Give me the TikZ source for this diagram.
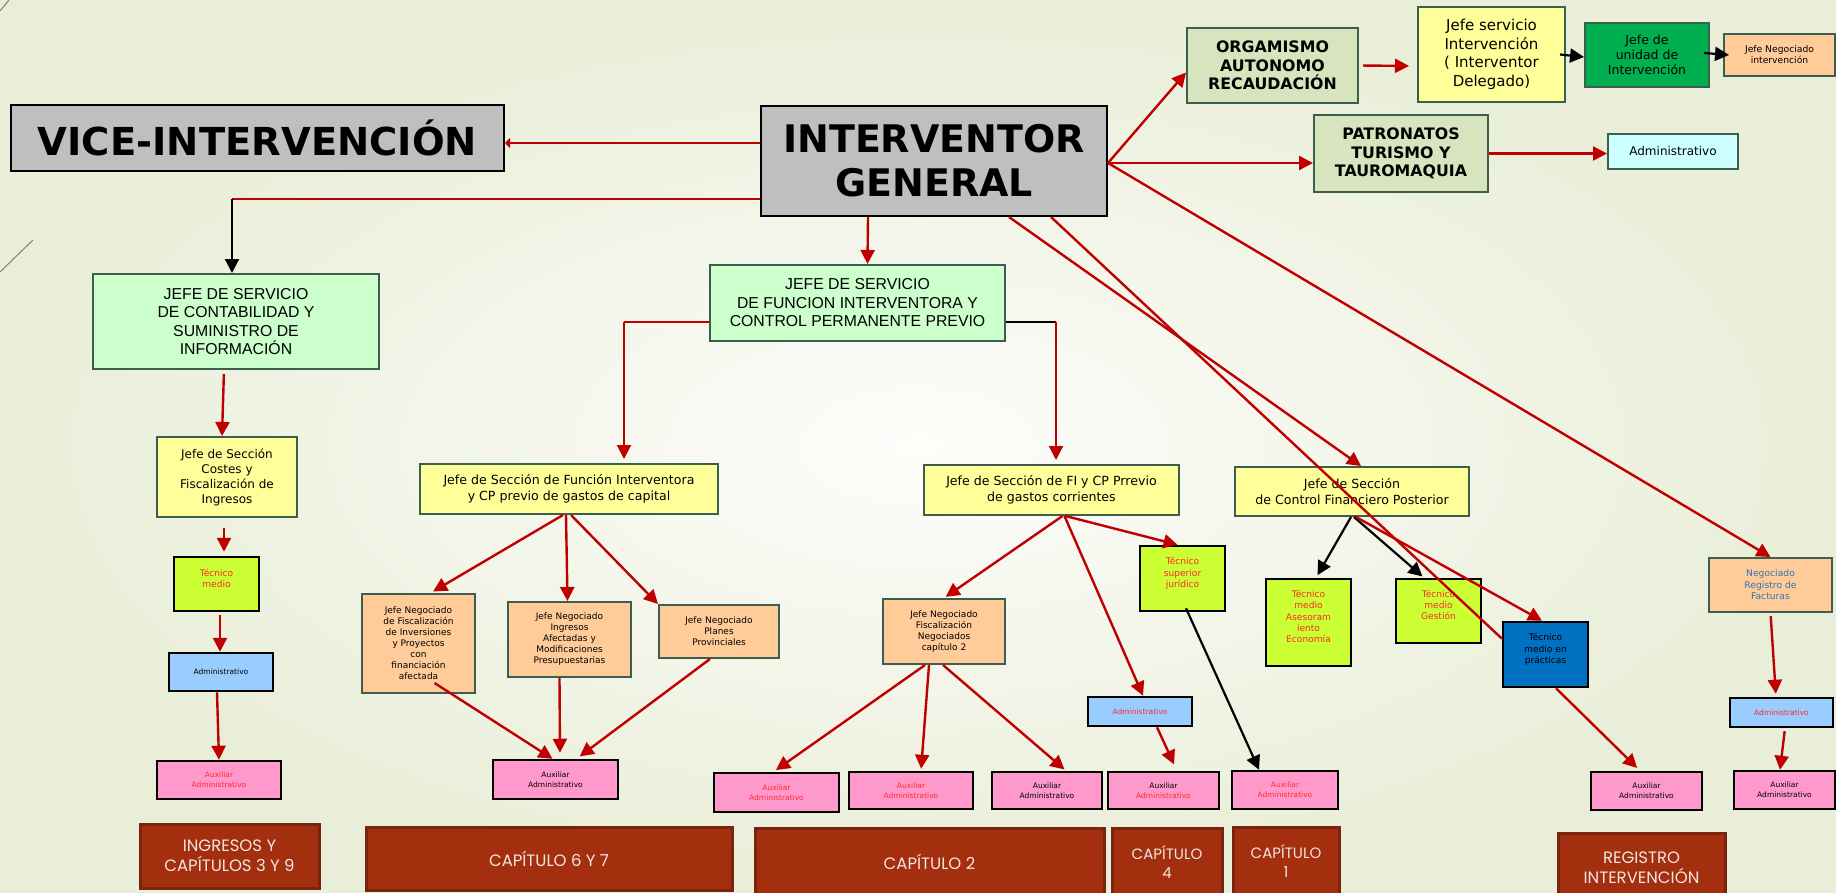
\documentclass[tikz,border=0pt]{standalone}
\usepackage{fontspec}
\setmainfont{DejaVu Sans}
\newfontfamily\arialfont{Liberation Sans}
\newfontfamily\capfont{Poppins}
\usepackage{xcolor}
\usetikzlibrary{arrows.meta}

\definecolor{bgin}{HTML}{FDFDFB}
\definecolor{bgout}{HTML}{E9EED8}
\definecolor{frame}{HTML}{3B5E4F}
\definecolor{boxgrey}{HTML}{BFBFBF}
\definecolor{boxgreen}{HTML}{CCFFCC}
\definecolor{boxyellow}{HTML}{FFFF99}
\definecolor{boxolive}{HTML}{D7E4BD}
\definecolor{unitgreen}{HTML}{00B050}
\definecolor{boxpeach}{HTML}{FFCC99}
\definecolor{boxcyan}{HTML}{CCFFFF}
\definecolor{boxlime}{HTML}{CCFF33}
\definecolor{boxblue}{HTML}{99CCFF}
\definecolor{boxpink}{HTML}{FF99CC}
\definecolor{boxnavy}{HTML}{0070C0}
\definecolor{linkred}{HTML}{C00000}
\definecolor{txtred}{HTML}{FF2A2A}
\definecolor{txtblue}{HTML}{2E75B6}
\definecolor{capfill}{HTML}{A32F0F}
\definecolor{capedge}{HTML}{7A2410}
\definecolor{captext}{HTML}{F1E6E0}
\definecolor{deco}{HTML}{8B7D6B}

\newcommand{\fsz}[2]{\fontsize{#1}{#2}\selectfont}

\tikzset{
	box/.style={align=center, inner sep=0pt, line width=2pt, draw=frame},
	greybox/.style={box, draw=black, fill=boxgrey, font=\bfseries\fsz{38.5}{44}},
	greenbox/.style={box, fill=boxgreen, font=\arialfont\fsz{15.8}{18.5}},
	yelbox/.style={box, fill=boxyellow, font=\fsz{12.6}{15.5}},
	olivebox/.style={box, fill=boxolive, font=\bfseries\fsz{15.8}{18.5}},
	negbox/.style={box, fill=boxpeach, font=\fsz{9}{11}},
	limebox/.style={box, draw=black, line width=2.5pt, fill=boxlime, text=txtred, font=\fsz{9.1}{11.2}, text depth=12pt},
	bluebox/.style={box, draw=black, line width=2.5pt, fill=boxblue, font=\fsz{7.5}{10}},
	pinkbox/.style={box, draw=black, line width=2.5pt, fill=boxpink, font=\fsz{7.5}{10}},
	capbox/.style={box, draw=capedge, line width=3pt, fill=capfill, text=captext, font=\capfont\fsz{16.5}{20}},
	link/.style={draw=linkred, line width=2.4pt, -{Triangle[length=14pt,width=14pt]}},
	blink/.style={link, draw=black, line width=2.2pt},
	thinlink/.style={draw=linkred, line width=1.8pt}
}

\begin{document}
\begin{tikzpicture}[x=1pt,y=-1pt]
			\useasboundingbox (0,0) rectangle (1836,892);
			\clip (0,0) rectangle (1836,892);
			\shade[inner color=bgin, outer color=bgout] (0,0) rectangle (1836,892);
			\draw[deco, line width=1pt] (0,272) -- (33,240);
			\draw[deco, line width=1pt] (0,11) -- (9,0);

			\node[greybox, minimum width=493pt, minimum height=66pt] (vice) at (257.5,138) {VICE-INTERVENCIÓN};
			\node[greybox, font=\bfseries\fsz{38}{44}, minimum width=346pt, minimum height=110pt] (ig) at (934,161) {INTERVENTOR\\GENERAL};

			\node[olivebox, minimum width=171pt, minimum height=75pt] (org) at (1272.5,65.5) {ORGAMISMO\\AUTONOMO\\RECAUDACIÓN};
			\node[yelbox, font=\fsz{15}{18.5}, minimum width=147pt, minimum height=95pt] (jsi) at (1491.5,54.5) {Jefe servicio\\Intervención\\( Interventor\\Delegado)};
			\node[box, fill=unitgreen, font=\fsz{12.5}{15}, minimum width=124pt, minimum height=64pt] (jui) at (1647,55) {Jefe de\\unidad de\\Intervención};
			\node[negbox, font=\fsz{9.2}{11}, minimum width=111pt, minimum height=42pt] (jni) at (1779.5,55) {Jefe Negociado\\intervención};
			\node[olivebox, minimum width=174pt, minimum height=77pt] (pat) at (1401,153.5) {PATRONATOS\\TURISMO Y\\TAUROMAQUIA};
			\node[box, fill=boxcyan, font=\fsz{12}{14}, minimum width=130pt, minimum height=35pt] (admtop) at (1673,151.5) {Administrativo};

			\node[greenbox, minimum width=286pt, minimum height=95pt] (jsc) at (236,321.5) {JEFE DE SERVICIO\\DE CONTABILIDAD Y\\SUMINISTRO DE\\INFORMACIÓN};
			\node[greenbox, minimum width=295pt, minimum height=76pt] (jsf) at (857.5,303) {JEFE DE SERVICIO\\DE FUNCION INTERVENTORA Y\\CONTROL PERMANENTE PREVIO};

			\node[yelbox, font=\fsz{12}{15}, minimum width=140pt, minimum height=80pt] (costes) at (227,477) {Jefe de Sección\\Costes y\\Fiscalización de\\Ingresos};
			\node[yelbox, minimum width=298pt, minimum height=50pt] (secfun) at (569,489) {Jefe de Sección de Función Interventora\\y CP previo de gastos de capital};
			\node[yelbox, minimum width=255pt, minimum height=50pt] (secfi) at (1051.5,490) {Jefe de Sección de FI y CP Prrevio\\de gastos corrientes};
			\node[yelbox, minimum width=234pt, minimum height=49pt] (seccfp) at (1352,491.5) {Jefe de Sección\\de Control Financiero Posterior};

			\node[limebox, minimum width=85pt, minimum height=54pt] (tmed) at (216.5,584) {Técnico\\medio};
			\node[bluebox, minimum width=104pt, minimum height=38pt] (admL) at (221,672) {Administrativo};
			\node[pinkbox, text=txtred, minimum width=124pt, minimum height=38pt] (auxL) at (219,780) {Auxiliar\\Administrativo};

			\node[negbox, minimum width=113pt, minimum height=99pt] (negfis) at (418.5,643.5) {Jefe Negociado\\de Fiscalización\\de Inversiones\\y Proyectos\\con\\financiación\\afectada};
			\node[negbox, minimum width=123pt, minimum height=75pt] (negia) at (569.5,639.5) {Jefe Negociado\\Ingresos\\Afectadas y\\Modificaciones\\Presupuestarias};
			\node[negbox, minimum width=120pt, minimum height=53pt] (negpp) at (719,631.5) {Jefe Negociado\\Planes\\Provinciales};
			\node[pinkbox, minimum width=125pt, minimum height=39pt] (auxC) at (555.5,779.5) {Auxiliar\\Administrativo};

			\node[negbox, minimum width=122pt, minimum height=65pt] (negc2) at (944,631.5) {Jefe Negociado\\Fiscalización\\Negociados\\capítulo 2};
			\node[pinkbox, text=txtred, minimum width=125pt, minimum height=39pt] (aux1) at (776.5,792.5) {Auxiliar\\Administrativo};
			\node[pinkbox, text=txtred, minimum width=124pt, minimum height=37pt] (aux2) at (911,790.5) {Auxiliar\\Administrativo};
			\node[pinkbox, minimum width=110pt, minimum height=37pt] (aux3) at (1047,790.5) {Auxiliar\\Administrativo};
			\node[pinkbox, minimum width=111pt, minimum height=37pt] (aux4) at (1163.5,790.5) {Auxiliar\\\textcolor{txtred}{Administrativo}};
			\node[bluebox, text=txtred, minimum width=104pt, minimum height=29pt] (admM) at (1140,711.5) {Administrativo};
			\node[limebox, minimum width=85pt, minimum height=65pt] (tsj) at (1182.5,578.5) {Técnico\\superior\\jurídico};
			\node[pinkbox, text=txtred, minimum width=106pt, minimum height=38pt] (aux5) at (1285,790) {Auxiliar\\Administrativo};

			\node[limebox, minimum width=85pt, minimum height=87pt] (tase) at (1308.5,622.5) {Técnico\\medio\\Asesoram\\iento\\Economía};
			\node[limebox, minimum width=85pt, minimum height=64pt] (tges) at (1438.5,611) {Técnico\\medio\\Gestión};
			\node[limebox, fill=boxnavy, text=black, minimum width=85pt, minimum height=65pt] (tpra) at (1545.5,654.5) {Técnico\\medio en\\prácticas};
			\node[pinkbox, minimum width=111pt, minimum height=38pt] (auxR1) at (1646.5,791) {Auxiliar\\Administrativo};
			\node[negbox, text=txtblue, font=\fsz{9.2}{11.5}, minimum width=123pt, minimum height=54pt] (negreg) at (1770.5,585) {Negociado\\Registro de\\Facturas};
			\node[bluebox, text=txtred, minimum width=103pt, minimum height=29pt] (admR) at (1781.5,712.5) {Administrativo};
			\node[pinkbox, minimum width=101pt, minimum height=38pt] (auxR2) at (1784.5,790) {Auxiliar\\Administrativo};

			\node[capbox, minimum width=179pt, minimum height=64pt] (capA) at (229.5,856) {INGRESOS Y\\CAPÍTULOS 3 Y 9};
			\node[capbox, minimum width=366pt, minimum height=63pt] (capB) at (549,858.5) {CAPÍTULO 6 Y 7};
			\node[capbox, minimum width=349pt, minimum height=68pt] (capC) at (929.5,862) {CAPÍTULO 2};
			\node[capbox, font=\capfont\fsz{15}{19}, minimum width=110pt, minimum height=68pt] (capD) at (1167,862) {CAPÍTULO\\4};
			\node[capbox, font=\capfont\fsz{15}{19}, minimum width=106pt, minimum height=68pt] (capE) at (1286,861) {CAPÍTULO\\1};
			\node[capbox, minimum width=167pt, minimum height=70pt] (capF) at (1641.5,868) {REGISTRO\\INTERVENCIÓN};

			\draw[thinlink, -{Triangle[length=5pt,width=10pt]}] ([yshift=18pt]ig.west) -- ([yshift=-5pt]vice.east);
			\coordinate (kinkL) at (232,199);
			\draw[thinlink] (kinkL -| ig.west) -- (kinkL);
			\draw[blink] (kinkL) -- (kinkL |- jsc.north);
			\draw[link] ([xshift=-66pt]ig.south) -- ([xshift=10pt]jsf.north);
			\draw[link] ([yshift=-2pt]ig.east) -- ([yshift=-7pt]org.west);
			\draw[link] ([yshift=-2pt]ig.east) -- ([yshift=-9.5pt]pat.west);
			\draw[link] ([yshift=-2pt]ig.east) -- (negreg.north);
			\draw[link] ([xshift=75pt]ig.south) -- ([xshift=9pt]seccfp.north);
			\draw[link, -] ([xshift=117pt]ig.south) -- ([yshift=16pt]tpra.west);

			\draw[link, shorten <=4pt, shorten >=8pt] (org.east) -- ([yshift=-11.5pt]jsi.west);
			\draw[blink] ([xshift=-6pt]jsi.east) -- ([yshift=-2pt]jui.west);
			\draw[blink] ([xshift=-6pt,yshift=2pt]jui.east) -- ([xshift=6pt]jni.west);
			\draw[link] (pat.east) -- (admtop.west |- pat.east);

			\draw[link, shorten <=4pt] ([xshift=-12pt]jsc.south) -- ([xshift=-5pt]costes.north);
			\draw[link, shorten <=10pt, shorten >=4pt] ([xshift=-3pt]costes.south) -- ([xshift=7.5pt]tmed.north);
			\draw[link, shorten <=3pt] ([xshift=3.5pt]tmed.south) -- ([xshift=-1pt]admL.north);
			\draw[link] ([xshift=-4pt]admL.south) -- (auxL.north);

			\coordinate (kinkF) at (624,322);
			\draw[thinlink] (kinkF -| jsf.west) -- (kinkF);
			\draw[link, line width=2pt, shorten >=4pt] (kinkF) -- (kinkF |- secfun.north);
			\coordinate (kinkR) at (1056,322);
			\draw[line width=2pt] (kinkR -| jsf.east) -- (kinkR);
			\draw[link, line width=2pt, shorten >=4pt] (kinkR) -- (kinkR |- secfi.north);

			\draw[link, shorten >=3pt] ([xshift=-6pt]secfun.south) -- ([xshift=12pt]negfis.north);
			\draw[link] ([xshift=-3pt]secfun.south) -- ([xshift=-2pt]negia.north);
			\draw[link] ([xshift=2pt]secfun.south) -- (negpp.north west);
			\draw[link] ([xshift=16pt,yshift=11pt]negfis.south) -- ([xshift=-3pt]auxC.north);
			\draw[link, shorten >=6pt] ([xshift=-10pt]negia.south) -- ([xshift=4.5pt]auxC.north);
			\draw[link, shorten >=4pt] ([xshift=-9pt]negpp.south) -- ([xshift=21pt]auxC.north);

			\draw[link, shorten >=2pt] ([xshift=11pt]secfi.south) -- (negc2.north);
			\draw[link] ([xshift=13pt]secfi.south) -- ([xshift=3pt]admM.north);
			\draw[link] ([xshift=14pt]secfi.south) -- ([xshift=-5pt]tsj.north);
			\draw[link, shorten >=3pt] ([xshift=-19pt]negc2.south) -- ([xshift=-3pt]aux1.north);
			\draw[link, shorten >=2pt] ([xshift=-15pt]negc2.south) -- ([xshift=10pt]aux2.north);
			\draw[link, shorten >=2pt] ([xshift=-1pt]negc2.south) -- ([xshift=19pt]aux3.north);
			\draw[link, shorten >=7pt] ([xshift=17pt]admM.south) -- ([xshift=13.5pt]aux4.north);
			\draw[blink] ([xshift=3.5pt,yshift=4pt]tsj.south) -- ([xshift=-26pt]aux5.north);

			\draw[blink, shorten >=3pt] ([xshift=-1pt]seccfp.south) -- ([xshift=7.5pt]tase.north);
			\draw[blink, shorten >=2pt] ([xshift=2pt]seccfp.south) -- ([xshift=-14.5pt]tges.north);
			\draw[link] ([xshift=4pt]seccfp.south) -- ([xshift=-3.5pt]tpra.north);
			\draw[link, shorten >=4pt] ([xshift=10.5pt]tpra.south) -- ([xshift=-6.5pt]auxR1.north);
			\draw[link, shorten <=3pt, shorten >=3pt] (negreg.south) -- ([xshift=-5.5pt]admR.north);
			\draw[link, shorten <=3pt] ([xshift=3.5pt]admR.south) -- ([xshift=-4.5pt]auxR2.north);
		\end{tikzpicture}
\end{document}
